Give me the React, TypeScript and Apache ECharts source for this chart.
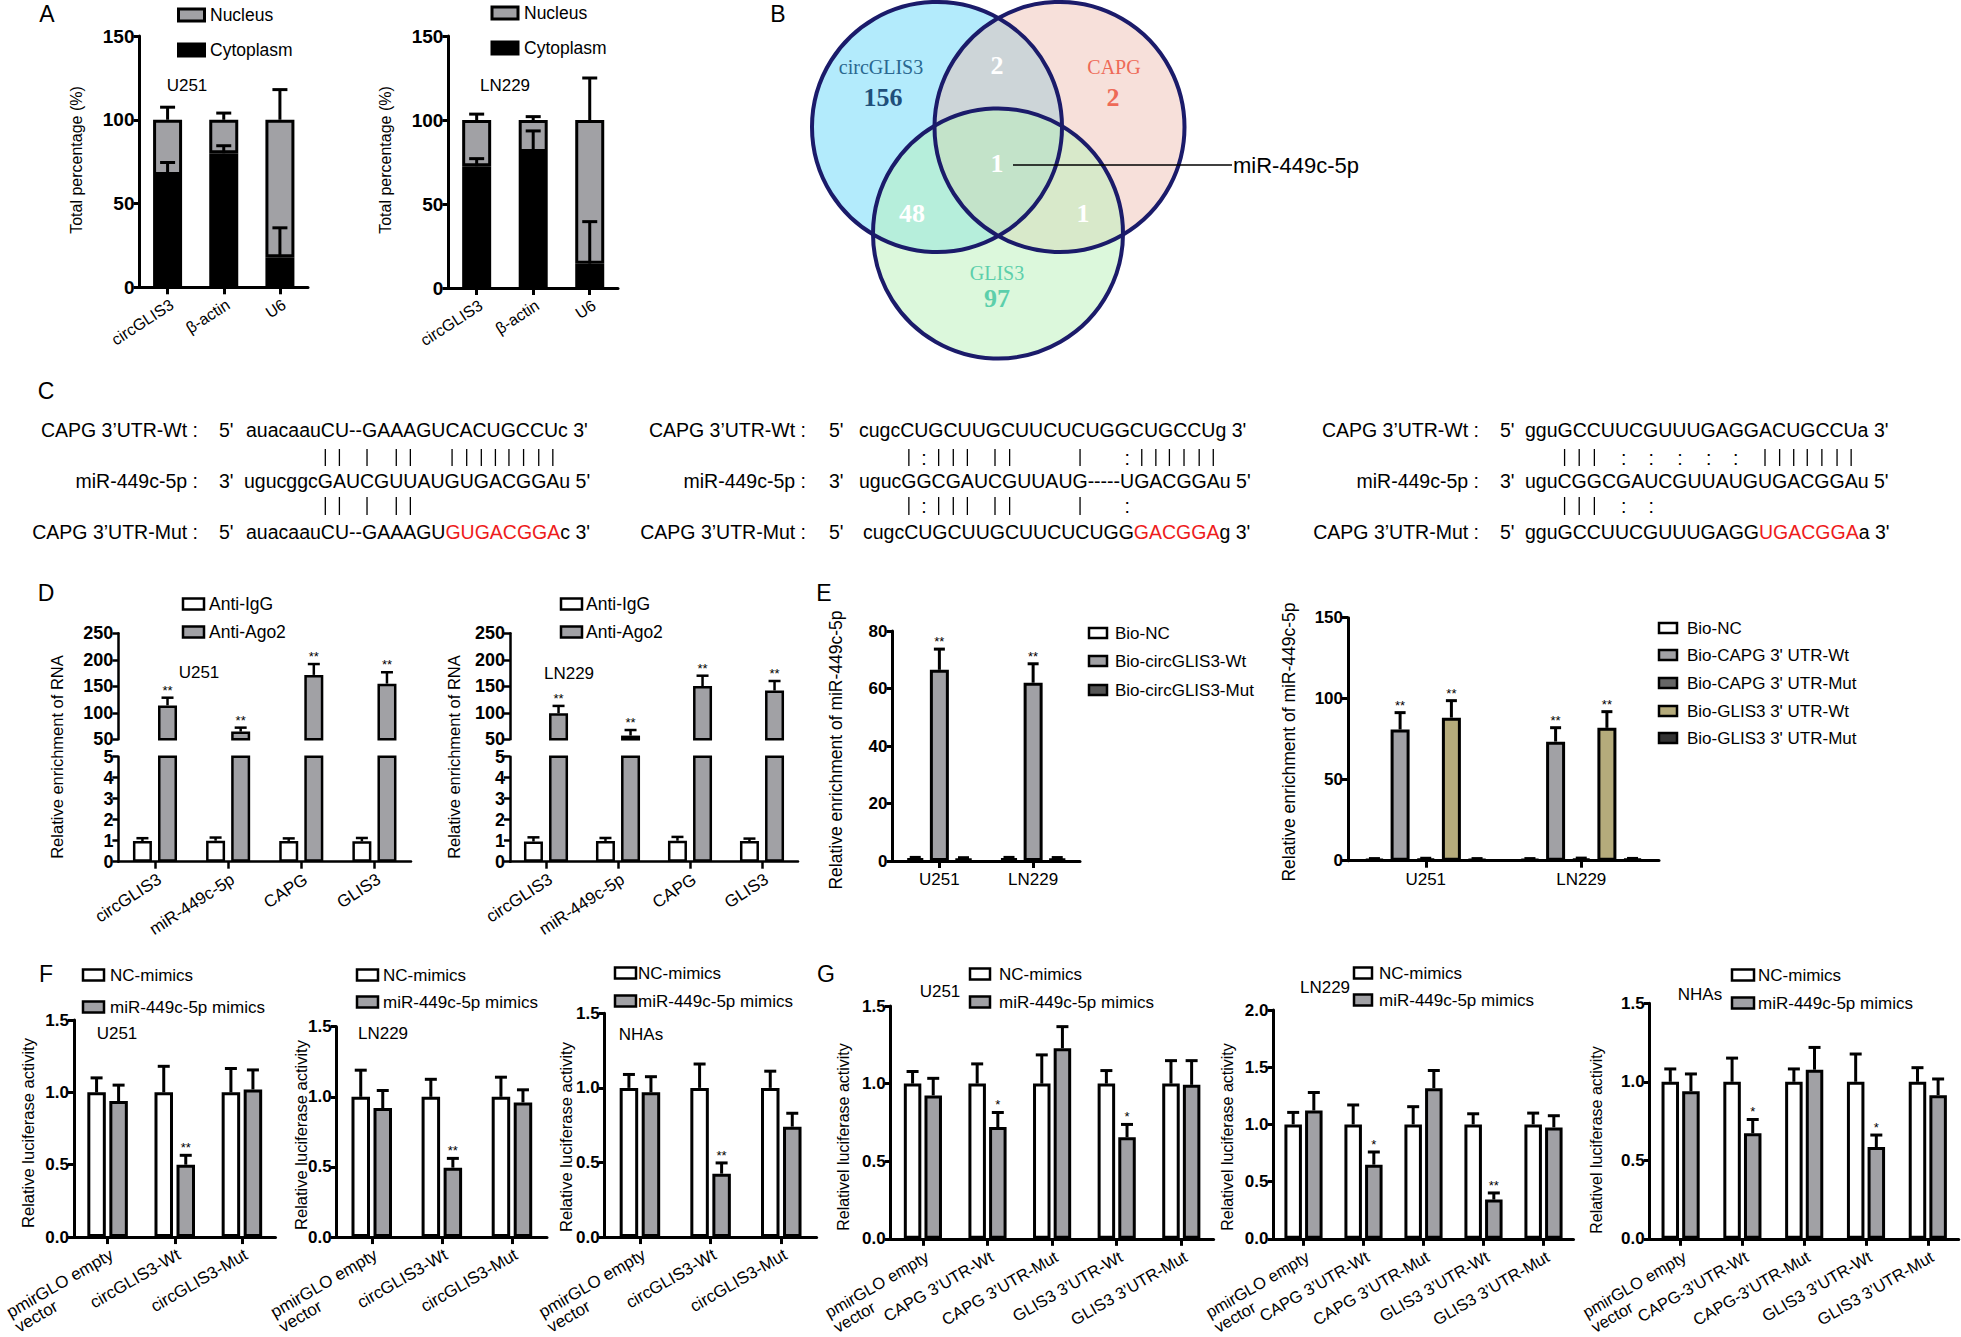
import React, { useEffect, useRef } from 'react';
import * as echarts from 'echarts';

const FONT = "'Liberation Sans', Arial, Helvetica, sans-serif";
const SERIF = "'Liberation Serif', 'Times New Roman', serif";
const BLACK = '#000000';
const GRAY = '#a1a1a5';
const WHITE = '#ffffff';
const RED = '#ee1c1c';

// ---------------- Panel A
const aCategories = ['circGLIS3', 'β-actin', 'U6'];
const aLegendNames = ['Nucleus', 'Cytoplasm'];
const aYAxis = [0, 150, 50];
const aTotal = 100;
const aU251Cytoplasm = [67, 80, 18];
const aU251CytoplasmErr = [7.5, 4.5, 17.5];
const aU251TotalErr = [7.5, 4, 18];
const aLN229Cytoplasm = [72.5, 81, 14.5];
const aLN229CytoplasmErr = [4.5, 12.5, 25];
const aLN229TotalErr = [3.5, 2, 25];

// ---------------- Panel B
const vennSetNames = ['circGLIS3', 'CAPG', 'GLIS3'];
const vennOnly = [156, 2, 97];
const vennPairs = [2, 48, 1]; // circGLIS3∩CAPG, circGLIS3∩GLIS3, CAPG∩GLIS3
const vennAll = 1;
const vennAllName = 'miR-449c-5p';

// ---------------- Panel C
const cRowLabels = ['CAPG 3’UTR-Wt :', 'miR-449c-5p :', 'CAPG 3’UTR-Mut :'];
const cRowEnds = ["5'", "3'", "5'"];
const cWt = ["auacaauCU--GAAAGUCACUGCCUc 3'", "cugcCUGCUUGCUUCUCUGGCUGCCUg 3'", "gguGCCUUCGUUUGAGGACUGCCUa 3'"];
const cMir = ['ugucggcGAUCGUUAUGUGACGGAu', 'ugucGGCGAUCGUUAUG-----UGACGGAu', 'uguCGGCGAUCGUUAUGUGACGGAu'];
const cMirEnd = " 5'";
const cMutPre = ['auacaauCU--GAAAGU', 'cugcCUGCUUGCUUCUCUGG', 'gguGCCUUCGUUUGAGG'];
const cMutSite = ['GUGACGGA', 'GACGGA', 'UGACGGA'];
const cMutPost = ["c 3'", "g 3'", "a 3'"];
const cPairsWt = ['       || | ||  ||||||||', '    |:||| ||    |     :||||||', '   ||| : : : : : |||||||'];
const cPairsMut = ['       || | ||', '    |:||| ||    |     :', '   ||| : :'];

// ---------------- Panel D
const dCategories = ['circGLIS3', 'miR-449c-5p', 'CAPG', 'GLIS3'];
const dNames = ['Anti-IgG', 'Anti-Ago2'];
const dYUpper = [50, 250, 50];
const dYLower = [0, 5, 1];
const dU251IgG = [0.98, 1.0, 0.99, 0.97];
const dU251IgGErr = [0.14, 0.15, 0.12, 0.16];
const dU251Ago2 = [114, 64.5, 171.5, 155];
const dU251Ago2Err = [14.5, 7.5, 20.5, 21.5];
const dLN229IgG = [0.96, 0.99, 1.0, 0.98];
const dLN229IgGErr = [0.2, 0.14, 0.18, 0.12];
const dLN229Ago2 = [99, 57, 150.5, 142];
const dLN229Ago2Err = [14, 10.5, 19.5, 18];
const dSig = ['**', '**', '**', '**'];

// ---------------- Panel E
const eCategories = ['U251', 'LN229'];
const eLeftNames = ['Bio-NC', 'Bio-circGLIS3-Wt', 'Bio-circGLIS3-Mut'];
const eLeftY = [0, 80, 20];
const eLeftNC = [1.0, 1.0];
const eLeftNCErr = [0.25, 0.25];
const eLeftWt = [66.5, 62];
const eLeftWtErr = [7.2, 6.6];
const eLeftMut = [0.9, 0.95];
const eLeftMutErr = [0.25, 0.25];
const eRightNames = ['Bio-NC', "Bio-CAPG 3' UTR-Wt", "Bio-CAPG 3' UTR-Mut", "Bio-GLIS3 3' UTR-Wt", "Bio-GLIS3 3' UTR-Mut"];
const eRightY = [0, 150, 50];
const eRightNC = [1.0, 1.0];
const eRightNCErr = [0.3, 0.3];
const eRightCAPGWt = [81, 73.5];
const eRightCAPGWtErr = [10.4, 8.6];
const eRightCAPGMut = [1.2, 1.3];
const eRightCAPGMutErr = [0.3, 0.3];
const eRightGLIS3Wt = [88.3, 82];
const eRightGLIS3WtErr = [10.5, 10];
const eRightGLIS3Mut = [1.0, 1.1];
const eRightGLIS3MutErr = [0.3, 0.3];
const eSig = ['**', '**'];

// ---------------- Panel F
const fCategories = ['pmirGLO empty\nvector', 'circGLIS3-Wt', 'circGLIS3-Mut'];
const fNames = ['NC-mimics', 'miR-449c-5p mimics'];
const fY = [0, 1.5, 0.5];
const fU251NC = [1, 1, 1];
const fU251NCErr = [0.1, 0.18, 0.165];
const fU251Mimics = [0.94, 0.5, 1.02];
const fU251MimicsErr = [0.11, 0.065, 0.135];
const fLN229NC = [1, 1, 1];
const fLN229NCErr = [0.19, 0.125, 0.14];
const fLN229Mimics = [0.92, 0.495, 0.96];
const fLN229MimicsErr = [0.125, 0.066, 0.09];
const fNHAsNC = [1, 1, 1];
const fNHAsNCErr = [0.09, 0.16, 0.112];
const fNHAsMimics = [0.97, 0.425, 0.74];
const fNHAsMimicsErr = [0.105, 0.072, 0.09];
const fSig = ['', '**', ''];

// ---------------- Panel G
const gCategories = ['pmirGLO empty\nvector', 'CAPG 3’UTR-Wt', 'CAPG 3’UTR-Mut', 'GLIS3 3’UTR-Wt', 'GLIS3 3’UTR-Mut'];
const gCategoriesNHAs = ['pmirGLO empty\nvector', 'CAPG-3’UTR-Wt', 'CAPG-3’UTR-Mut', 'GLIS3 3’UTR-Wt', 'GLIS3 3’UTR-Mut'];
const gNames = ['NC-mimics', 'miR-449c-5p mimics'];
const gY15 = [0, 1.5, 0.5];
const gY20 = [0, 2.0, 0.5];
const gU251NC = [1, 1, 1, 1, 1];
const gU251NCErr = [0.078, 0.127, 0.185, 0.084, 0.148];
const gU251Mimics = [0.924, 0.72, 1.228, 0.654, 0.992];
const gU251MimicsErr = [0.11, 0.094, 0.139, 0.083, 0.156];
const gU251Sig = ['', '*', '', '*', ''];
const gLN229NC = [1, 1, 1, 1, 1];
const gLN229NCErr = [0.105, 0.17, 0.155, 0.093, 0.099];
const gLN229Mimics = [1.122, 0.648, 1.317, 0.343, 0.974];
const gLN229MimicsErr = [0.157, 0.111, 0.154, 0.058, 0.102];
const gLN229Sig = ['', '*', '', '**', ''];
const gNHAsNC = [1, 1, 1, 1, 1];
const gNHAsNCErr = [0.082, 0.151, 0.082, 0.177, 0.09];
const gNHAsMimics = [0.94, 0.672, 1.077, 0.585, 0.915];
const gNHAsMimicsErr = [0.11, 0.088, 0.142, 0.076, 0.103];
const gNHAsSig = ['', '*', '', '*', ''];

// ---------------------------------------------------------------
function errSeries(k: number, bases: number[], errs: number[], sigs: string[] | undefined, off: number, cap: number, lw: number, star: number) {
  return {
    type: 'custom', xAxisIndex: k, yAxisIndex: k, z: 4, silent: true,
    data: bases.map((v, i) => [i, v, v + errs[i]]),
    renderItem: (params: any, api: any) => {
      const i = api.value(0);
      const p0 = api.coord([i, api.value(1)]);
      const p1 = api.coord([i, api.value(2)]);
      const x = p0[0] + off;
      const children: any[] = [
        { type: 'line', shape: { x1: x, y1: p0[1], x2: x, y2: p1[1] }, style: { stroke: BLACK, lineWidth: lw } },
        { type: 'line', shape: { x1: x - cap / 2, y1: p1[1], x2: x + cap / 2, y2: p1[1] }, style: { stroke: BLACK, lineWidth: lw } },
      ];
      const s = sigs ? sigs[params.dataIndex] : '';
      if (s) {
        children.push({ type: 'text', x, y: p1[1] - 1, style: { text: s, fill: BLACK, font: `${star}px ${FONT}`, textAlign: 'center', textVerticalAlign: 'bottom' } });
      }
      return { type: 'group', children };
    },
  };
}

function buildCharts(specs: any[]) {
  const grid: any[] = [], xAxis: any[] = [], yAxis: any[] = [], series: any[] = [];
  specs.forEach((sp, k) => {
    grid.push({ left: sp.box[0], top: sp.box[1], width: sp.box[2], height: sp.box[3] });
    const lineStyle = { color: BLACK, width: sp.lw };
    const rotated = !!sp.rot;
    xAxis.push({
      type: 'category', gridIndex: k, data: sp.cats, show: !sp.hideX,
      axisLine: { show: true, lineStyle },
      axisTick: { show: true, alignWithLabel: true, length: 7, lineStyle },
      axisLabel: {
        interval: 0, rotate: sp.rot || 0, color: BLACK, fontFamily: FONT, fontSize: sp.labelSize,
        margin: rotated ? 9 : 10,
        verticalAlign: rotated ? 'top' : undefined,
        formatter: (v: string) => (v.indexOf('\n') >= 0 ? v.split('\n').map((t) => `{l|${t}}`).join('\n') : v),
        rich: { l: { align: 'left', fontFamily: FONT, fontSize: sp.labelSize, color: BLACK } },
      },
    });
    yAxis.push({
      type: 'value', gridIndex: k, min: sp.range[0], max: sp.range[1], interval: sp.range[2],
      axisLine: { show: true, lineStyle },
      axisTick: { show: true, length: 6, lineStyle },
      splitLine: { show: false },
      axisLabel: {
        color: BLACK, fontFamily: FONT, fontSize: sp.tickSize, fontWeight: 'bold', margin: 5,
        formatter: (v: number) => v.toFixed(sp.dec),
      },
    });
    const n = sp.stack ? 1 : sp.series.length;
    sp.series.forEach((s: any) => {
      series.push({
        type: 'bar', name: s.name, xAxisIndex: k, yAxisIndex: k, data: s.data,
        stack: sp.stack ? `s${k}` : undefined, barWidth: sp.bw, barGap: `${sp.gap}%`,
        itemStyle: { color: s.color, borderColor: BLACK, borderWidth: sp.lw },
        silent: true, emphasis: { disabled: true },
      });
    });
    sp.series.forEach((s: any, j: number) => {
      if (!s.err) return;
      const off = sp.stack ? 0 : (j - (n - 1) / 2) * sp.bw * (1 + sp.gap / 100);
      series.push(errSeries(k, s.base || s.data, s.err, s.sig, off, sp.cap, sp.lw, sp.star));
    });
  });
  return { grid, xAxis, yAxis, series };
}

function txt(x: number, y: number, text: string, size: number, opts: any = {}) {
  return {
    type: 'text', x, y, rotation: opts.rotation || 0, silent: true,
    style: {
      text, fill: opts.color || BLACK,
      font: `${opts.weight || 'normal'} ${size}px ${opts.family || FONT}`,
      textAlign: opts.align || 'center', textVerticalAlign: opts.valign || 'middle',
      rich: opts.rich,
    },
  };
}

function legendEls(x: number, ys: number[], names: string[], fills: string[], textX: number, w: number, h: number, fs: number, lw: number) {
  const els: any[] = [];
  names.forEach((n, i) => {
    els.push({ type: 'rect', silent: true, shape: { x, y: ys[i] - h / 2, width: w, height: h }, style: { fill: fills[i], stroke: BLACK, lineWidth: lw } });
    els.push(txt(textX, ys[i], n, fs, { align: 'left' }));
  });
  return els;
}

const measureCtx = typeof document !== 'undefined' ? document.createElement('canvas').getContext('2d') : null;
function tw(text: string, font: string) {
  if (!measureCtx) return text.length * 10;
  measureCtx.font = font;
  return measureCtx.measureText(text).width;
}

function panelC() {
  const els: any[] = [];
  const size = 19.5;
  const font = `${size}px ${FONT}`;
  const layout = [
    { labelRight: 198, primeX: 219, seqX: [246, 244, 246] },
    { labelRight: 806, primeX: 829, seqX: [859, 859, 863] },
    { labelRight: 1479, primeX: 1500, seqX: [1525, 1525, 1525] },
  ];
  const rowY = [430, 481, 532];
  const gapY = [[449, 466], [497, 515]];
  layout.forEach((L, b) => {
    cRowLabels.forEach((lab, r) => {
      els.push(txt(L.labelRight, rowY[r], lab, size, { align: 'right' }));
      els.push(txt(L.primeX, rowY[r], cRowEnds[r], size, { align: 'left' }));
    });
    els.push(txt(L.seqX[0], rowY[0], cWt[b], size, { align: 'left' }));
    els.push(txt(L.seqX[1], rowY[1], cMir[b] + cMirEnd, size, { align: 'left' }));
    els.push(txt(L.seqX[2], rowY[2], `{n|${cMutPre[b]}}{r|${cMutSite[b]}}{n|${cMutPost[b]}}`, size, {
      align: 'left',
      rich: { n: { fill: BLACK, font }, r: { fill: RED, font } },
    }));
    const mir = cMir[b];
    [cPairsWt[b], cPairsMut[b]].forEach((pairs, g) => {
      for (let i = 0; i < pairs.length; i++) {
        const ch = pairs[i];
        if (ch === ' ') continue;
        const cx = L.seqX[1] + tw(mir.slice(0, i), font) + tw(mir[i], font) / 2;
        if (ch === '|') {
          els.push({ type: 'line', silent: true, shape: { x1: cx, y1: gapY[g][0], x2: cx, y2: gapY[g][1] }, style: { stroke: BLACK, lineWidth: 1.3 } });
        } else {
          els.push(txt(cx, (gapY[g][0] + gapY[g][1]) / 2, ':', size));
        }
      }
    });
  });
  return els;
}

function panelB() {
  const els: any[] = [];
  const circles = [{ cx: 937, cy: 127 }, { cx: 1059.5, cy: 127 }, { cx: 998, cy: 233.5 }];
  const fills = ['rgba(103,215,249,0.5)', 'rgba(238,186,172,0.45)', 'rgba(185,241,185,0.5)'];
  circles.forEach((c, i) => els.push({ type: 'circle', silent: true, shape: { cx: c.cx, cy: c.cy, r: 125 }, style: { fill: fills[i] } }));
  circles.forEach((c) => els.push({ type: 'circle', silent: true, shape: { cx: c.cx, cy: c.cy, r: 125 }, style: { fill: 'none', stroke: '#1b1b6a', lineWidth: 4 } }));
  const nameColors = ['#2a6890', '#ee6a57', '#5ccfab'];
  const numColors = ['#1f4f7a', '#ee6a57', '#5ccfab'];
  const namePos = [[881, 67], [1114, 67], [997, 273]];
  const numPos = [[883, 97], [1113, 97], [997, 298]];
  vennSetNames.forEach((n, i) => {
    els.push(txt(namePos[i][0], namePos[i][1], n, 20, { family: SERIF, color: nameColors[i] }));
    els.push(txt(numPos[i][0], numPos[i][1], String(vennOnly[i]), 26, { family: SERIF, color: numColors[i], weight: 'bold' }));
  });
  const pairPos = [[997, 65], [912, 213], [1083, 213]];
  vennPairs.forEach((v, i) => els.push(txt(pairPos[i][0], pairPos[i][1], String(v), 26, { family: SERIF, color: WHITE, weight: 'bold' })));
  els.push(txt(997, 163, String(vennAll), 26, { family: SERIF, color: WHITE, weight: 'bold' }));
  els.push({ type: 'line', silent: true, shape: { x1: 1013, y1: 165, x2: 1232, y2: 165 }, style: { stroke: BLACK, lineWidth: 1.5 } });
  els.push(txt(1233, 165, vennAllName, 22, { align: 'left' }));
  return els;
}

function buildOption() {
  const specs: any[] = [];
  const aCommon = { cats: aCategories, range: aYAxis, stack: true, bw: 29, gap: 0, lw: 3, cap: 15, star: 13, dec: 0, tickSize: 19, labelSize: 16, rot: 33 };
  specs.push({ ...aCommon, box: [139.5, 36, 168.5, 251.3], series: [
    { name: 'Cytoplasm', data: aU251Cytoplasm, err: aU251CytoplasmErr, color: BLACK },
    { name: 'Nucleus', data: aU251Cytoplasm.map((v) => aTotal - v), base: aU251Cytoplasm.map(() => aTotal), err: aU251TotalErr, color: GRAY },
  ] });
  specs.push({ ...aCommon, box: [448.4, 36, 169.6, 252], series: [
    { name: 'Cytoplasm', data: aLN229Cytoplasm, err: aLN229CytoplasmErr, color: BLACK },
    { name: 'Nucleus', data: aLN229Cytoplasm.map((v) => aTotal - v), base: aLN229Cytoplasm.map(() => aTotal), err: aLN229TotalErr, color: GRAY },
  ] });

  const dCommon = { cats: dCategories, bw: 19, gap: 32, lw: 2.5, cap: 12, star: 13, dec: 0, tickSize: 18, labelSize: 17, rot: 33 };
  const dSets = [
    { x: 118.4, w: 292.6, igg: dU251IgG, iggErr: dU251IgGErr, ago: dU251Ago2, agoErr: dU251Ago2Err },
    { x: 510, w: 288, igg: dLN229IgG, iggErr: dLN229IgGErr, ago: dLN229Ago2, agoErr: dLN229Ago2Err },
  ];
  dSets.forEach((d) => {
    specs.push({ ...dCommon, box: [d.x, 633.3, d.w, 106], range: dYUpper, hideX: true, series: [
      { name: dNames[0], data: d.igg, color: WHITE },
      { name: dNames[1], data: d.ago, err: d.agoErr, sig: dSig, color: GRAY },
    ] });
    specs.push({ ...dCommon, box: [d.x, 756.7, d.w, 105], range: dYLower, series: [
      { name: dNames[0], data: d.igg, err: d.iggErr, color: WHITE },
      { name: dNames[1], data: d.ago, color: GRAY },
    ] });
  });

  const eCommon = { cats: eCategories, lw: 3, cap: 11, star: 13, dec: 0, tickSize: 17, labelSize: 17, rot: 0 };
  specs.push({ ...eCommon, box: [892.5, 631, 187.5, 230], range: eLeftY, bw: 19, gap: 27, series: [
    { name: eLeftNames[0], data: eLeftNC, err: eLeftNCErr, color: WHITE },
    { name: eLeftNames[1], data: eLeftWt, err: eLeftWtErr, sig: eSig, color: GRAY },
    { name: eLeftNames[2], data: eLeftMut, err: eLeftMutErr, color: '#555555' },
  ] });
  specs.push({ ...eCommon, box: [1348, 617.7, 311, 243], range: eRightY, bw: 19, gap: 35, series: [
    { name: eRightNames[0], data: eRightNC, err: eRightNCErr, color: WHITE },
    { name: eRightNames[1], data: eRightCAPGWt, err: eRightCAPGWtErr, sig: eSig, color: GRAY },
    { name: eRightNames[2], data: eRightCAPGMut, err: eRightCAPGMutErr, color: '#666666' },
    { name: eRightNames[3], data: eRightGLIS3Wt, err: eRightGLIS3WtErr, sig: eSig, color: '#b5ab7b' },
    { name: eRightNames[4], data: eRightGLIS3Mut, err: eRightGLIS3MutErr, color: '#333333' },
  ] });

  const fCommon = { cats: fCategories, range: fY, bw: 18.5, gap: 19, lw: 3, cap: 12, star: 13, dec: 1, tickSize: 17, labelSize: 17, rot: 30 };
  const fSets = [
    { box: [74, 1020, 201.5, 222.7], nc: fU251NC, ncErr: fU251NCErr, m: fU251Mimics, mErr: fU251MimicsErr },
    { box: [336.7, 1026.7, 210.3, 217.3], nc: fLN229NC, ncErr: fLN229NCErr, m: fLN229Mimics, mErr: fLN229MimicsErr },
    { box: [604.6, 1013.3, 212, 229.4], nc: fNHAsNC, ncErr: fNHAsNCErr, m: fNHAsMimics, mErr: fNHAsMimicsErr },
  ];
  fSets.forEach((f) => specs.push({ ...fCommon, box: f.box, series: [
    { name: fNames[0], data: f.nc, err: f.ncErr, color: WHITE },
    { name: fNames[1], data: f.m, err: f.mErr, sig: fSig, color: GRAY },
  ] }));

  const gCommon = { bw: 17.5, gap: 18, lw: 3, cap: 12, star: 13, dec: 1, tickSize: 17, labelSize: 16.5, rot: 30 };
  const gSets = [
    { box: [890.6, 1006, 323, 233.3], cats: gCategories, range: gY15, nc: gU251NC, ncErr: gU251NCErr, m: gU251Mimics, mErr: gU251MimicsErr, sig: gU251Sig },
    { box: [1273.5, 1010, 300, 229.3], cats: gCategories, range: gY20, nc: gLN229NC, ncErr: gLN229NCErr, m: gLN229Mimics, mErr: gLN229MimicsErr, sig: gLN229Sig },
    { box: [1649.7, 1003.3, 309, 236.7], cats: gCategoriesNHAs, range: gY15, nc: gNHAsNC, ncErr: gNHAsNCErr, m: gNHAsMimics, mErr: gNHAsMimicsErr, sig: gNHAsSig },
  ];
  gSets.forEach((g) => specs.push({ ...gCommon, box: g.box, cats: g.cats, range: g.range, series: [
    { name: gNames[0], data: g.nc, err: g.ncErr, color: WHITE },
    { name: gNames[1], data: g.m, err: g.mErr, sig: g.sig, color: GRAY },
  ] }));

  const charts = buildCharts(specs);

  const g: any[] = [];
  // panel letters
  [['A', 47, 14], ['B', 778, 14], ['C', 46, 391], ['D', 46, 593], ['E', 824, 593], ['F', 46, 974], ['G', 826, 974]].forEach((p: any) => g.push(txt(p[1], p[2], p[0], 23)));
  // y axis titles
  const yt = (x: number, y: number, t: string, s: number) => g.push(txt(x, y, t, s, { rotation: Math.PI / 2 }));
  yt(76, 160, 'Total percentage (%)', 16);
  yt(385, 160, 'Total percentage (%)', 16);
  yt(57, 757, 'Relative enrichment of RNA', 16.5);
  yt(454, 757, 'Relative enrichment of RNA', 16.5);
  yt(836, 750, 'Relative enrichment of miR-449c-5p', 17.5);
  yt(1289, 742, 'Relative enrichment of miR-449c-5p', 17.5);
  yt(28, 1133, 'Relative luciferase activity', 16.5);
  yt(301, 1135, 'Relative luciferase activity', 16.5);
  yt(566, 1137, 'Relative luciferase activity', 16.5);
  yt(843, 1137, 'Relativel luciferase activity', 16);
  yt(1227, 1137, 'Relativel luciferase activity', 16);
  yt(1596, 1140, 'Relativel luciferase activity', 16);
  // in-plot cell line labels
  [['U251', 187, 85], ['LN229', 505, 85], ['U251', 199, 672], ['LN229', 569, 673], ['U251', 117, 1033], ['LN229', 383, 1033], ['NHAs', 641, 1034], ['U251', 940, 991], ['LN229', 1325, 987], ['NHAs', 1700, 994]].forEach((p: any) => g.push(txt(p[1], p[2], p[0], 17)));
  // legends
  g.push(...legendEls(178.5, [15, 50], aLegendNames, [GRAY, BLACK], 210, 26, 12, 17.5, 3));
  g.push(...legendEls(492, [13, 48], aLegendNames, [GRAY, BLACK], 524, 26, 12, 17.5, 3));
  g.push(...legendEls(183, [604, 632], dNames, [WHITE, GRAY], 209, 21, 11, 17.5, 2.5));
  g.push(...legendEls(561, [604, 632], dNames, [WHITE, GRAY], 586, 21, 11, 17.5, 2.5));
  g.push(...legendEls(1089, [633, 661, 690], eLeftNames, [WHITE, GRAY, '#555555'], 1115, 18, 10, 17, 2.5));
  g.push(...legendEls(1659, [628, 655, 683, 711, 738], eRightNames, [WHITE, GRAY, '#666666', '#b5ab7b', '#333333'], 1687, 18, 10, 17, 2.5));
  g.push(...legendEls(83, [975, 1007], fNames, [WHITE, GRAY], 110, 21, 11, 17, 2.5));
  g.push(...legendEls(357, [975, 1002], fNames, [WHITE, GRAY], 383, 21, 11, 17, 2.5));
  g.push(...legendEls(615, [973, 1001], fNames, [WHITE, GRAY], 638, 21, 11, 17, 2.5));
  g.push(...legendEls(970, [974, 1002], gNames, [WHITE, GRAY], 999, 20, 11, 17, 2.5));
  g.push(...legendEls(1354, [973, 1000], gNames, [WHITE, GRAY], 1379, 18, 11, 17, 2.5));
  g.push(...legendEls(1732, [975, 1003], gNames, [WHITE, GRAY], 1758, 22, 11, 17, 2.5));
  g.push(...panelB());
  g.push(...panelC());

  return {
    animation: false,
    backgroundColor: '#ffffff',
    textStyle: { fontFamily: FONT },
    grid: charts.grid,
    xAxis: charts.xAxis,
    yAxis: charts.yAxis,
    series: charts.series,
    graphic: { elements: g },
  };
}

export default function App() {
  const ref = useRef<HTMLDivElement>(null);
  useEffect(() => {
    if (!ref.current) return;
    const chart = echarts.init(ref.current, null, { renderer: 'svg' });
    chart.setOption(buildOption() as any);
    return () => chart.dispose();
  }, []);
  return <div ref={ref} style={{ position: 'absolute', left: 0, top: 0, width: 1961, height: 1337, background: '#fff' }} />;
}
